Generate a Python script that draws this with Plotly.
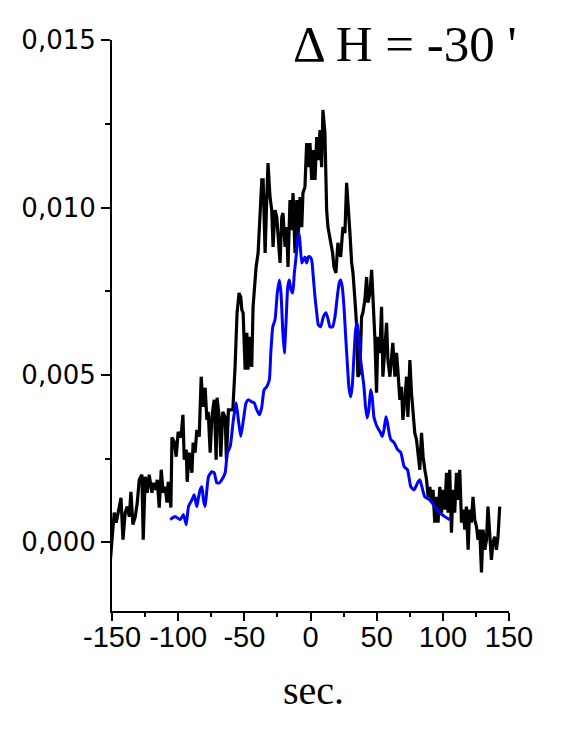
import plotly.graph_objects as go

# Black (noisy) series
black_x = [-156.8, -155.1, -153.8, -151.3, -149.2, -148.3, -146.8, -145.2, -143.2, -141.7,
           -140.0, -138.5, -136.9, -135.7, -134.2, -132.4, -130.9, -129.4, -127.4, -126.4,
           -124.9, -123.4, -121.9, -119.8, -118.8, -117.3, -115.8, -114.3, -112.8, -111.3,
           -109.8, -108.5, -107.5, -105.5, -104.7, -103.0, -101.5, -100.0, -97.9, -96.4,
           -95.4, -93.9, -93.2, -91.7, -89.6, -88.7, -87.2, -85.9, -84.1, -82.6,
           -81.3, -79.6, -78.3, -77.3, -75.8, -74.5, -72.8, -71.3, -70.6, -69.0,
           -67.8, -66.3, -64.5, -63.5, -62.0, -58.7, -57.0, -55.5, -54.0, -52.7,
           -51.9, -50.9, -49.4, -48.1, -47.2, -45.7, -44.4, -43.4, -41.1, -39.6,
           -38.1, -36.8, -35.8, -34.3, -33.1, -32.1, -30.6, -29.3, -28.3, -26.8,
           -25.5, -24.5, -23.0, -21.7, -20.8, -19.2, -18.0, -17.0, -15.5, -14.2,
           -13.2, -11.7, -10.4, -9.4, -7.9, -6.6, -5.7, -4.2, -2.9, -1.9,
           -0.4, 0.9, 1.9, 3.4, 4.7, 5.7, 7.2, 8.4, 9.4, 10.9,
           12.2, 13.2, 14.7, 16.7, 17.7, 19.2, 20.7, 22.8, 24.5, 26.0,
           27.3, 28.3, 29.8, 31.1, 32.1, 33.6, 34.9, 35.8, 37.3, 38.6,
           39.6, 41.1, 42.4, 43.4, 44.9, 46.2, 47.2, 48.7, 49.9, 50.9,
           52.4, 53.7, 54.7, 56.2, 57.5, 58.5, 60.0, 61.3, 62.2, 63.8,
           65.0, 66.0, 67.5, 68.8, 69.8, 71.3, 72.6, 73.6, 75.1, 76.3,
           77.3, 78.8, 80.1, 81.3, 82.6, 83.9, 85.1, 86.4, 87.7, 88.9,
           90.2, 91.4, 92.6, 93.9, 95.2, 96.4, 97.7, 99.0, 100.2, 101.5,
           102.8, 104.0, 105.2, 106.5, 107.7, 109.0, 110.3, 111.5, 112.8, 114.1,
           115.3, 116.6, 117.8, 119.1, 120.3, 121.6, 122.8, 124.1, 125.4, 126.6,
           127.9, 129.2, 130.4, 131.7, 133.0, 134.1, 135.4, 136.7, 137.9, 139.2,
           140.5, 141.7, 143.0]
black_y = [0.00000, -0.00058, 0.00089, -0.00058, 0.00047, 0.00089, 0.00059, 0.00089, 0.00133, 0.00008,
           0.00089, 0.00107, 0.00077, 0.00151, 0.00053, 0.00077, 0.00119, 0.00187, 0.00202, 0.00008,
           0.00196, 0.00148, 0.00202, 0.00148, 0.00178, 0.00157, 0.00187, 0.00104, 0.00217, 0.00148,
           0.00166, 0.00119, 0.00181, 0.00104, 0.00313, 0.00301, 0.00256, 0.00330, 0.00313, 0.00381,
           0.00247, 0.00277, 0.00181, 0.00268, 0.00208, 0.00298, 0.00268, 0.00336, 0.00316, 0.00495,
           0.00405, 0.00462, 0.00366, 0.00390, 0.00268, 0.00375, 0.00426, 0.00247, 0.00432, 0.00375,
           0.00256, 0.00390, 0.00375, 0.00247, 0.00396, 0.00396, 0.00524, 0.00686, 0.00745, 0.00733,
           0.00695, 0.00686, 0.00516, 0.00626, 0.00516, 0.00614, 0.00524, 0.00704, 0.00823, 0.00865,
           0.00972, 0.01083, 0.01083, 0.00865, 0.01023, 0.01133, 0.01032, 0.00993, 0.00883, 0.00993,
           0.00972, 0.00924, 0.00835, 0.00972, 0.00984, 0.00883, 0.00942, 0.00823, 0.01023, 0.00933,
           0.01044, 0.00865, 0.01023, 0.00904, 0.01032, 0.00942, 0.01044, 0.01062, 0.01193, 0.01121,
           0.01193, 0.01083, 0.01172, 0.01083, 0.01211, 0.01142, 0.01232, 0.01121, 0.01292, 0.01223,
           0.00993, 0.00942, 0.00904, 0.00865, 0.00823, 0.00805, 0.00895, 0.00853, 0.00942, 0.00924,
           0.01074, 0.01023, 0.00924, 0.00835, 0.00805, 0.00724, 0.00644, 0.00495, 0.00507, 0.00674,
           0.00686, 0.00724, 0.00793, 0.00716, 0.00745, 0.00814, 0.00745, 0.00605, 0.00447, 0.00614,
           0.00566, 0.00704, 0.00495, 0.00566, 0.00656, 0.00545, 0.00495, 0.00554, 0.00596, 0.00495,
           0.00566, 0.00516, 0.00426, 0.00465, 0.00366, 0.00426, 0.00495, 0.00375, 0.00545, 0.00447,
           0.00405, 0.00327, 0.00307, 0.00256, 0.00217, 0.00327, 0.00256, 0.00217, 0.00187, 0.00136,
           0.00166, 0.00119, 0.00157, 0.00059, 0.00136, 0.00059, 0.00166, 0.00089, 0.00157, 0.00098,
           0.00208, 0.00089, 0.00217, 0.00029, 0.00157, 0.00089, 0.00208, 0.00127, 0.00217, 0.00059,
           0.00098, 0.00038, 0.00107, -0.00022, 0.00098, 0.00059, 0.00136, 0.00068, 0.00047, 0.00008,
           0.00038, -0.00090, 0.00038, -0.00022, 0.00008, 0.00107, 0.00017, -0.00052, 0.00000, 0.00017,
           -0.00022, 0.00017, 0.00107]

# Blue (smooth) series
blue_x = [-106.0, -102.2, -98.5, -96.0, -93.9, -92.2, -89.6, -87.9, -85.9, -84.7,
          -83.4, -82.1, -80.9, -79.6, -78.3, -77.1, -74.6, -72.8, -70.8, -68.8,
          -67.0, -64.5, -62.8, -60.7, -58.3, -56.2, -54.5, -52.7, -50.7, -48.7,
          -46.9, -44.4, -42.6, -40.6, -38.6, -36.8, -35.1, -33.1, -31.1, -30.0,
          -28.5, -26.8, -25.1, -23.5, -22.3, -21.0, -19.8, -18.5, -17.2, -16.0,
          -14.7, -13.4, -12.2, -10.9, -9.7, -8.7, -7.9, -6.6, -5.4, -4.2,
          -2.9, -1.7, -0.4, 0.9, 2.1, 3.4, 4.7, 5.9, 7.7, 9.7,
          11.7, 13.4, 14.7, 16.7, 18.5, 20.2, 21.7, 22.8, 24.0, 25.3,
          26.6, 27.8, 29.0, 30.3, 31.5, 32.8, 34.1, 35.3, 36.6, 37.9,
          39.1, 40.4, 41.6, 42.8, 44.1, 45.4, 46.6, 47.9, 49.2, 50.4,
          53.0, 54.2, 55.5, 57.0, 58.2, 59.4, 60.7, 63.2, 65.8, 68.3,
          70.8, 73.3, 75.8, 78.3, 80.9, 82.6, 86.4, 90.2, 93.9, 97.7,
          101.5, 105.2]
blue_y = [0.00068, 0.00077, 0.00068, 0.00083, 0.00053, 0.00107, 0.00127, 0.00142, 0.00107, 0.00133,
          0.00157, 0.00166, 0.00127, 0.00107, 0.00157, 0.00196, 0.00211, 0.00208, 0.00178, 0.00178,
          0.00187, 0.00208, 0.00268, 0.00286, 0.00366, 0.00417, 0.00366, 0.00316, 0.00366, 0.00417,
          0.00426, 0.00420, 0.00417, 0.00396, 0.00381, 0.00405, 0.00456, 0.00465, 0.00486, 0.00566,
          0.00644, 0.00665, 0.00745, 0.00784, 0.00745, 0.00635, 0.00566, 0.00656, 0.00763, 0.00784,
          0.00754, 0.00745, 0.00805, 0.00853, 0.00904, 0.00924, 0.00895, 0.00835, 0.00844, 0.00853,
          0.00835, 0.00853, 0.00853, 0.00844, 0.00793, 0.00733, 0.00686, 0.00650, 0.00644, 0.00674,
          0.00686, 0.00665, 0.00644, 0.00644, 0.00674, 0.00733, 0.00775, 0.00784, 0.00763, 0.00704,
          0.00614, 0.00536, 0.00465, 0.00435, 0.00465, 0.00554, 0.00635, 0.00656, 0.00614, 0.00545,
          0.00507, 0.00465, 0.00405, 0.00372, 0.00396, 0.00456, 0.00435, 0.00375, 0.00357, 0.00345,
          0.00327, 0.00316, 0.00336, 0.00375, 0.00357, 0.00327, 0.00307, 0.00298, 0.00277, 0.00268,
          0.00226, 0.00217, 0.00166, 0.00157, 0.00178, 0.00187, 0.00136, 0.00127, 0.00107, 0.00089,
          0.00077, 0.00068]

x_tick_vals = [-150, -100, -50, 0, 50, 100, 150]
x_tick_text = ["-150", "-100", "-50", "0", "50", "100", "150"]
y_tick_vals = [0.000, 0.005, 0.010, 0.015]
y_tick_text = ["0,000", "0,005", "0,010", "0,015"]

title_text = "\u0394 H = -30 '"
x_title = "sec."

fig = go.Figure()
fig.add_trace(go.Scatter(x=black_x, y=black_y, mode="lines",
                         line=dict(color="#000000", width=3.2), showlegend=False))
fig.add_trace(go.Scatter(x=blue_x, y=blue_y, mode="lines",
                         line=dict(color="#0000FF", width=3.0, shape="spline", smoothing=0.5),
                         showlegend=False))

fig.update_layout(
    width=564, height=732,
    margin=dict(l=104, r=63, t=32, b=129),
    paper_bgcolor="white", plot_bgcolor="white",
    showlegend=False,
    xaxis=dict(
        range=[-150, 150], showgrid=False, zeroline=False,
        showline=True, linecolor="black", linewidth=2, mirror=False,
        tickmode="array", tickvals=x_tick_vals, ticktext=x_tick_text,
        ticks="outside", ticklen=8, tickwidth=2, tickcolor="black",
        ticklabelstandoff=-9,
        minor=dict(tickmode="linear", tick0=-150, dtick=25, ticks="outside",
                   ticklen=4, tickwidth=2, tickcolor="black", showgrid=False),
        tickfont=dict(family="Liberation Sans Narrow, Arial Narrow, Liberation Sans, Arial",
                      size=29, color="black"),
    ),
    yaxis=dict(
        range=[-0.00205, 0.01501], showgrid=False, zeroline=False,
        showline=True, linecolor="black", linewidth=2, mirror=False,
        tickmode="array", tickvals=y_tick_vals, ticktext=y_tick_text,
        ticks="outside", ticklen=9, tickwidth=2, tickcolor="black",
        minor=dict(tickmode="linear", tick0=0, dtick=0.0025, ticks="outside",
                   ticklen=5, tickwidth=2, tickcolor="black", showgrid=False),
        tickfont=dict(family="DejaVu Sans", size=26, color="black"),
    ),
    annotations=[
        dict(text=title_text, xref="paper", yref="paper", x=0.452, y=0.993,
             xanchor="left", yanchor="middle", showarrow=False,
             font=dict(family="Liberation Serif, Times New Roman, serif", size=51, color="black")),
        dict(text=x_title, xref="paper", yref="paper", x=0.5075, y=-0.1823,
             xanchor="center", yanchor="bottom", showarrow=False,
             font=dict(family="Liberation Serif, Times New Roman, serif", size=40, color="black")),
    ],
)

fig.write_html("out.html")
